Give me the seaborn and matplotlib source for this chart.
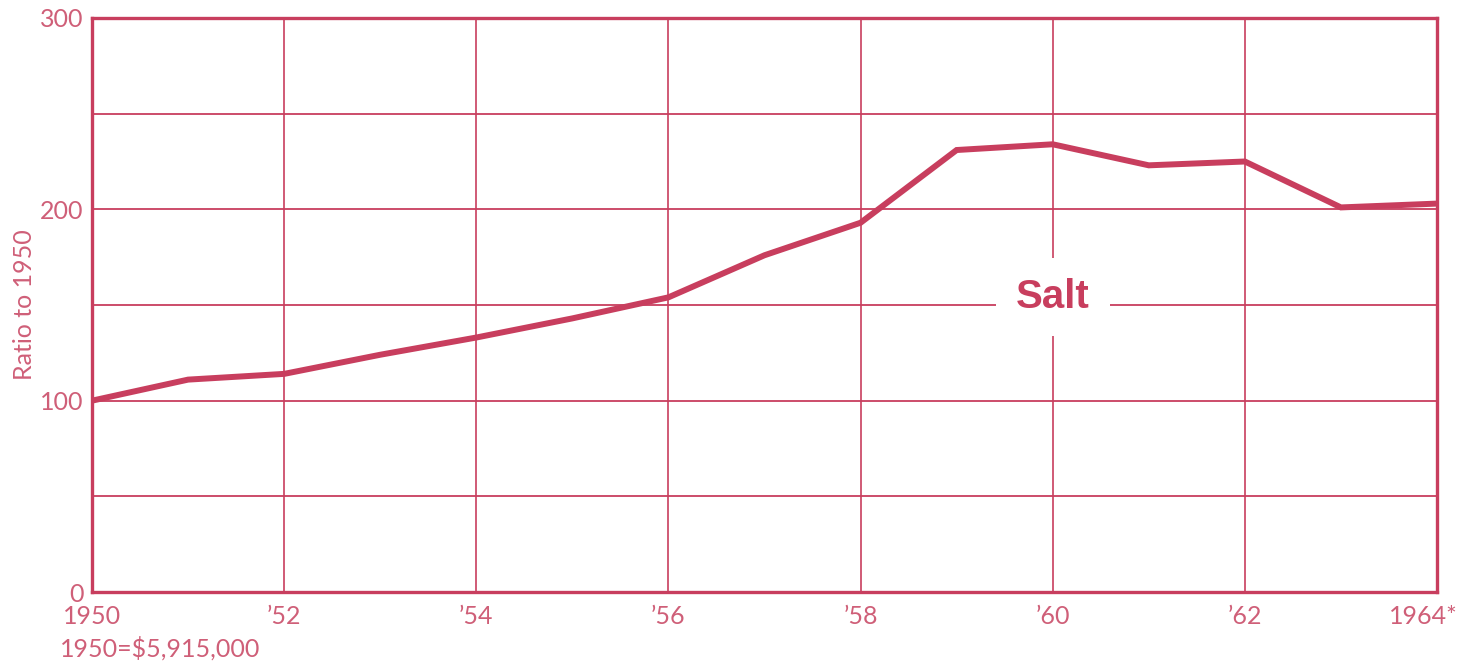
import numpy as np
import pandas as pd
import matplotlib
matplotlib.use("Agg")
import matplotlib.pyplot as plt
import matplotlib.transforms as mtrans
import seaborn as sns

# values (ratio to 1950)
years = [1950, 1951, 1952, 1953, 1954, 1955, 1956, 1957, 1958, 1959, 1960, 1961, 1962, 1963, 1964]
ratio = [100, 111, 114, 124, 133, 143, 154, 176, 193, 231, 234, 223, 225, 201, 203]
xtick_pos = [1950, 1952, 1954, 1956, 1958, 1960, 1962, 1964]
xtick_lab = ["1950", "\u201952", "\u201954", "\u201956", "\u201958", "\u201960", "\u201962", "1964*"]
ytick_pos = [0, 100, 200, 300]
ygrid_pos = [50, 100, 150, 200, 250]

LINE = "#c83e5e"
TEXT = "#cf5f78"

sns.set_theme(style="white")
plt.rcParams["font.family"] = ["Lato", "DejaVu Sans"]

df = pd.DataFrame({"year": years, "ratio": ratio})

fig = plt.figure(figsize=(14.78, 6.71), dpi=100)
ax = fig.add_axes([92 / 1478, 1 - 592 / 671, (1437 - 92) / 1478, (592 - 18) / 671])

# grid drawn by hand so every line gets the same colour
for x in xtick_pos[1:-1]:
    ax.axvline(x, color=LINE, lw=1.2, zorder=1)
for y in ygrid_pos:
    ax.axhline(y, color=LINE, lw=1.3, zorder=1)

sns.lineplot(data=df, x="year", y="ratio", color=LINE, lw=4.3, ax=ax, zorder=3,
             solid_joinstyle="miter")

ax.text(1960, 154, "Salt", ha="center", va="center", fontsize=29, fontweight="bold",
        color=LINE, family=["Liberation Sans", "DejaVu Sans"], zorder=2,
        bbox=dict(boxstyle="square,pad=0.5", fc="white", ec="none"))

ax.set_xlim(1950, 1964)
ax.set_ylim(0, 300)
ax.set_xticks(xtick_pos)
ax.set_xticklabels(xtick_lab)
ax.set_yticks(ytick_pos)
ax.tick_params(length=0, colors=TEXT, labelsize=18)
ax.tick_params(axis="x", pad=9)
ax.tick_params(axis="y", pad=6)
# the asterisk hangs past the tick, nudge the last label left a bit
last = ax.get_xticklabels()[-1]
last.set_transform(last.get_transform() + mtrans.ScaledTranslation(-0.14, 0, fig.dpi_scale_trans))

for s in ax.spines.values():
    s.set_visible(True)
    s.set_color(LINE)
    s.set_linewidth(2.4)

ax.set_xlabel("")
ax.set_ylabel("Ratio to 1950", color=TEXT, fontsize=18, labelpad=3)

fig.text(60 / 1478, 1 - 648 / 671, "1950=$5,915,000", color=TEXT, fontsize=18,
         va="center", ha="left")

fig.savefig("out.png", dpi=100)
